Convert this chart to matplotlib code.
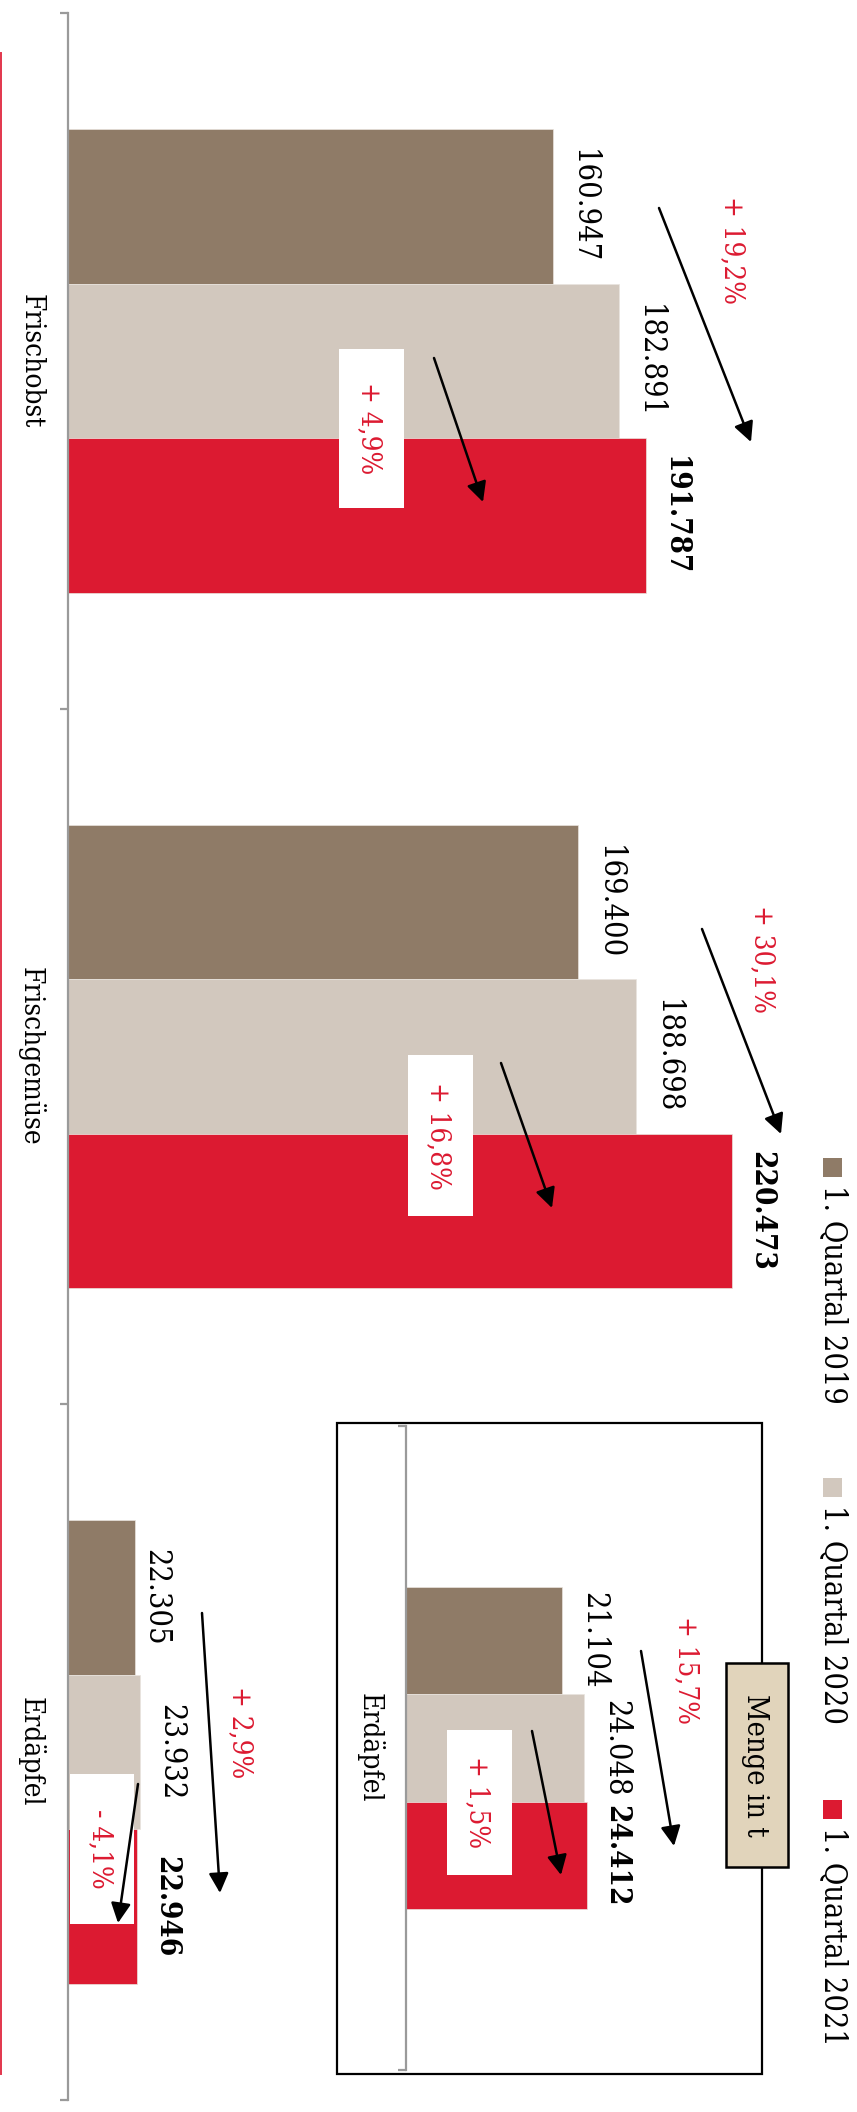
import matplotlib
matplotlib.use('Agg')
import matplotlib.pyplot as plt
from matplotlib.patches import Rectangle, FancyArrowPatch
from matplotlib.lines import Line2D
from matplotlib.transforms import blended_transform_factory
from matplotlib.font_manager import FontProperties, fontManager
import os

# ---------------- data ----------------
categories = ['Frischobst', 'Frischgemüse', 'Erdäpfel']
series = ['1. Quartal 2019', '1. Quartal 2020', '1. Quartal 2021']
q2019 = [160947, 169400, 22305]
q2020 = [182891, 188698, 23932]
q2021 = [191787, 220473, 22946]
inset_category = 'Erdäpfel'
inset_values = [21104, 24048, 24412]
inset_title = 'Menge in t'
colors = ['#8f7b67', '#d2c8be', '#dc1a31']
RED_TXT = '#dc1a31'

# ---------------- fonts ----------------
def find_font(fname):
    for f in fontManager.ttflist:
        if os.path.basename(f.fname) == fname:
            return f.fname
    return None

reg_path = find_font('DejaVuSerifCondensed.ttf')
bold_path = find_font('DejaVuSerifCondensed-Bold.ttf')
if reg_path and bold_path:
    FP_REG = FontProperties(fname=reg_path)
    FP_BOLD = FontProperties(fname=bold_path)
else:
    FP_REG = FontProperties(family='DejaVu Serif')
    FP_BOLD = FontProperties(family='DejaVu Serif', weight='bold')

W, H = 857, 2112
fig = plt.figure(figsize=(W / 100, H / 100), dpi=100)
fig.patch.set_facecolor('white')
renderer = fig.canvas.get_renderer()


def fit(text, target_px, fp):
    t = fig.text(0, 0, text, fontproperties=fp, fontsize=10)
    w = t.get_window_extent(renderer).width
    t.remove()
    return 10 * target_px / w


def fx(px):
    return px / W


def fy(py):
    return 1 - py / H


def fig_axes(left, top, right, bottom):
    return fig.add_axes([fx(left), fy(bottom), (right - left) / W, (bottom - top) / H])


def fmt(v):
    return f"{v:,}".replace(',', '.')


def pct(a, b):
    p = (b / a - 1) * 100
    sign = '+' if p >= 0 else '-'
    return f"{sign} {abs(p):.1f}%".replace('.', ',')


FS_VAL = fit('160.947', 114, FP_REG)
FS_BOLD = fit('220.473', 120, FP_BOLD)
FS_PCT = fit('+ 19,2%', 108, FP_REG)
FS_CAT = fit('Frischobst', 134, FP_REG)
FS_LEG = fit('1. Quartal 2019', 220, FP_REG)
FS_MENGE = fit('Menge in t', 143, FP_REG)

AXIS_GRAY = '#9a9a9a'
BW = 2 / 9   # bar height within a category (main)
BW_IN = 1 / 6
LABEL_GAP = 15            # pixels between bar end and label box
LABEL_GAP_SPECIAL = {(2, 0): 5}   # Erdäpfel 2019 label sits closer to its bar


def style_axis(a):
    for s in ['top', 'right', 'bottom']:
        a.spines[s].set_visible(False)
    a.spines['left'].set_color(AXIS_GRAY)
    a.spines['left'].set_linewidth(1.6)
    a.set_xticks([])
    a.tick_params(axis='y', length=6, width=1.6, color=AXIS_GRAY, labelleft=False)
    a.patch.set_alpha(0)


# ---------------- main axes ----------------
AX_L, AX_T, AX_R, AX_B = 68.3, 13, 857, 2100
PX_PER_UNIT = 0.00301
ax = fig_axes(AX_L, AX_T, AX_R, AX_B)
ax.set_xlim(0, (AX_R - AX_L) / PX_PER_UNIT)
ax.set_ylim(len(categories) - 0.5, -0.5)
style_axis(ax)
ax.set_yticks([i - 0.5 for i in range(len(categories) + 1)])

ypos = list(range(len(categories)))
for k, vals in enumerate([q2019, q2020, q2021]):
    yy = [y + (k - 1) * BW for y in ypos]
    ax.barh(yy, vals, height=BW, color=colors[k], edgecolor='#e9e4de', linewidth=0.5)
    for i, (y, v) in enumerate(zip(yy, vals)):
        gap = LABEL_GAP_SPECIAL.get((i, k), LABEL_GAP)
        ax.annotate(fmt(v), xy=(v, y), xytext=(gap, 0), textcoords='offset pixels',
                    rotation=-90, ha='left', va='center', color='black',
                    fontproperties=FP_BOLD if k == 2 else FP_REG,
                    fontsize=FS_BOLD if k == 2 else FS_VAL)

cat_tr = blended_transform_factory(fig.transFigure, ax.transData)
for y, c in zip(ypos, categories):
    ax.text(fx(31), y, c, transform=cat_tr, rotation=-90, ha='center', va='center',
            fontproperties=FP_REG, fontsize=FS_CAT, color='black', clip_on=False)

# ---------------- inset axes ----------------
IN_L, IN_T, IN_R, IN_B = 406, 1426, 760, 2070
PX_PER_UNIT_IN = 0.0074
ax2 = fig_axes(IN_L, IN_T, IN_R, IN_B)
ax2.set_xlim(0, (IN_R - IN_L) / PX_PER_UNIT_IN)
ax2.set_ylim(0.5, -0.5)
style_axis(ax2)
ax2.set_yticks([-0.5, 0.5])
for k, v in enumerate(inset_values):
    y = (k - 1) * BW_IN
    ax2.barh([y], [v], height=BW_IN, color=colors[k], edgecolor='#e9e4de', linewidth=0.5)
    ax2.annotate(fmt(v), xy=(v, y), xytext=(LABEL_GAP + 1, 0), textcoords='offset pixels',
                 rotation=-90, ha='left', va='center', color='black',
                 fontproperties=FP_BOLD if k == 2 else FP_REG,
                 fontsize=FS_BOLD if k == 2 else FS_VAL)
cat_tr2 = blended_transform_factory(fig.transFigure, ax2.transData)
ax2.text(fx(370), 0, inset_category, transform=cat_tr2, rotation=-90, ha='center',
         va='center', fontproperties=FP_REG, fontsize=FS_CAT, color='black', clip_on=False)

# inset frame
fig.add_artist(Rectangle((fx(337), fy(2074)), (762 - 337) / W, (2074 - 1423) / H,
                         transform=fig.transFigure, facecolor='none', edgecolor='black',
                         linewidth=1.6, zorder=2))
# "Menge in t" box
fig.add_artist(Rectangle((fx(726), fy(1867)), (788 - 726) / W, (1867 - 1663) / H,
                         transform=fig.transFigure, facecolor='#e1d4bb', edgecolor='black',
                         linewidth=1.8, zorder=3))
fig.text(fx(755), fy(1765), inset_title, rotation=-90, ha='center', va='center',
         fontproperties=FP_REG, fontsize=FS_MENGE, color='black', zorder=4)

# ---------------- change annotations ----------------
def arrow(p0, p1):
    fig.add_artist(FancyArrowPatch((fx(p0[0]), fy(p0[1])), (fx(p1[0]), fy(p1[1])),
                                   transform=fig.transFigure,
                                   arrowstyle='-|>,head_length=12,head_width=6',
                                   mutation_scale=1, shrinkA=0, shrinkB=0,
                                   color='black', linewidth=1.8, zorder=6))


def long_change(a, b, center, p0, p1):
    fig.text(fx(center[0]), fy(center[1]), pct(a, b), rotation=-90, ha='center',
             va='center', color=RED_TXT, fontproperties=FP_REG, fontsize=FS_PCT, zorder=5)
    arrow(p0, p1)


def short_change(a, b, box, p0, p1):
    x0, y0, x1, y1 = box
    fig.add_artist(Rectangle((fx(x0), fy(y1)), (x1 - x0) / W, (y1 - y0) / H,
                             transform=fig.transFigure, facecolor='white',
                             edgecolor='none', zorder=4))
    fig.text(fx((x0 + x1) / 2 - 2), fy((y0 + y1) / 2), pct(a, b), rotation=-90, ha='center',
             va='center', color=RED_TXT, fontproperties=FP_REG, fontsize=FS_PCT, zorder=5)
    arrow(p0, p1)


# Frischobst
long_change(q2019[0], q2021[0], (732, 250), (659, 208), (751, 442))
short_change(q2020[0], q2021[0], (339, 349, 404, 508), (434, 358), (483, 502))
# Frischgemüse
long_change(q2019[1], q2021[1], (762, 959), (702, 929), (781, 1134))
short_change(q2020[1], q2021[1], (408, 1055, 473, 1216), (501, 1063), (552, 1208))
# Erdäpfel
long_change(q2019[2], q2021[2], (240, 1732), (202, 1613), (220, 1893))
short_change(q2020[2], q2021[2], (70, 1774, 134, 1924), (138, 1784), (118, 1923))
# Inset Erdäpfel
long_change(inset_values[0], inset_values[2], (686, 1670), (641, 1651), (674, 1846))
short_change(inset_values[1], inset_values[2], (447, 1730, 512, 1875), (532, 1731), (561, 1875))

# ---------------- legend ----------------
for k, (lab, top) in enumerate(zip(series, [1158, 1478, 1800])):
    fig.add_artist(Rectangle((fx(823), fy(top + 19)), 19 / W, 19 / H,
                             transform=fig.transFigure, facecolor=colors[k],
                             edgecolor='none', zorder=3))
    fig.text(fx(833), fy(top + 27), lab, rotation=-90, ha='center', va='top',
             fontproperties=FP_REG, fontsize=FS_LEG, color='black', zorder=4)

# red line at left edge
fig.add_artist(Line2D([fx(1), fx(1)], [fy(53), fy(2074)], transform=fig.transFigure,
                      color='#e2354c', linewidth=1.4, zorder=3))

fig.savefig('out.png', dpi=100, facecolor='white')
